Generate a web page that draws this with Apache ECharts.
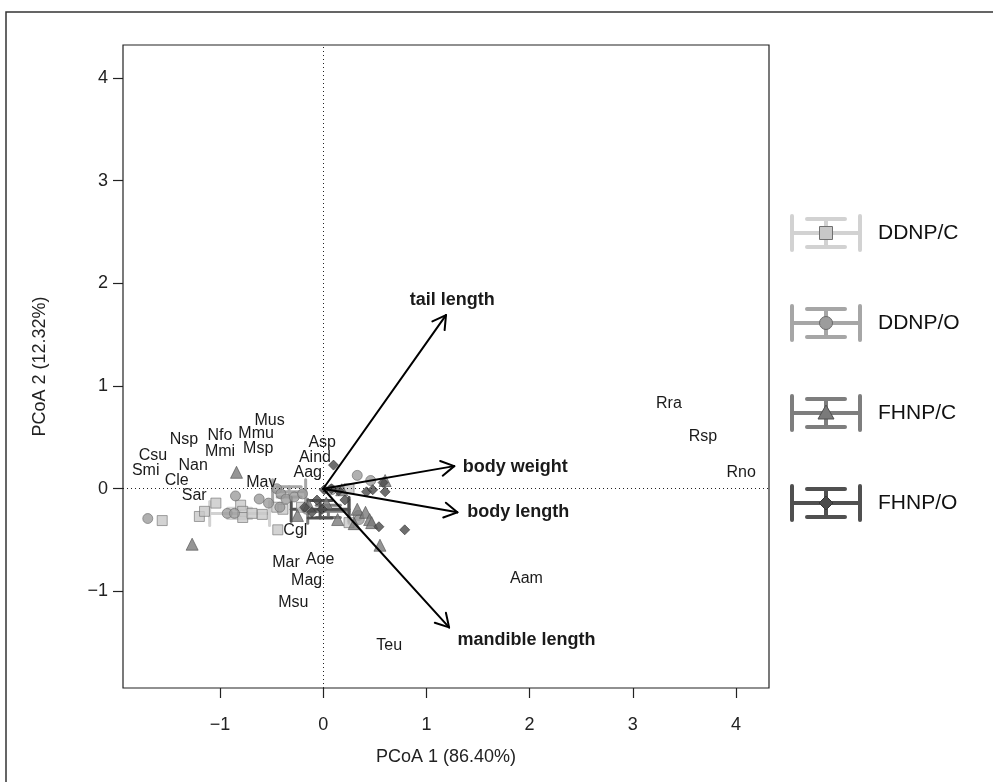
<!DOCTYPE html>
<html>
<head>
<meta charset="utf-8">
<script src="https://cdn.jsdelivr.net/npm/echarts@6/dist/echarts.min.js"></script>
<style>
  html, body { margin: 0; padding: 0; background: #fff; }
  #main { width: 993px; height: 782px; }
</style>
</head>
<body>
<div id="main"></div>
<script>
// group points
var ddnpC = [[-1.56, -0.31], [-1.20, -0.27], [-1.15, -0.22], [-1.04, -0.14], [-0.80, -0.16],
  [-0.78, -0.22], [-0.78, -0.28], [-0.69, -0.24], [-0.59, -0.25], [-0.45, -0.18],
  [-0.44, -0.40], [-0.39, -0.20], [-0.21, -0.18], [0.25, 0.00], [0.25, -0.33]];
var ddnpO = [[-1.70, -0.29], [-0.93, -0.24], [-0.86, -0.24], [-0.85, -0.07], [-0.62, -0.10],
  [-0.53, -0.14], [-0.45, 0.00], [-0.41, -0.05], [-0.36, -0.10], [-0.28, -0.08],
  [-0.42, -0.18], [-0.20, -0.05], [-0.16, -0.20], [0.08, -0.01], [0.33, 0.13],
  [0.46, 0.08], [0.34, -0.26], [0.35, -0.30]];
var fhnpC = [[-0.84, 0.16], [-1.27, -0.54], [-0.25, -0.26], [-0.14, -0.16], [0.03, -0.14],
  [0.14, -0.30], [0.18, -0.01], [0.33, -0.20], [0.41, -0.23], [0.45, -0.30],
  [0.47, -0.33], [0.55, -0.55], [0.60, 0.08], [0.30, -0.34]];
var fhnpO = [[0.10, 0.23], [0.01, -0.01], [0.08, 0.00], [0.15, -0.02], [0.21, -0.11],
  [0.42, -0.03], [0.48, -0.01], [0.58, 0.06], [0.60, -0.03], [0.54, -0.37],
  [0.79, -0.40], [-0.01, -0.20], [-0.11, -0.23], [-0.18, -0.18], [-0.06, -0.11]];

// centroid x, centroid y, error x, error y
var groupNames = ['DDNP/C', 'DDNP/O', 'FHNP/C', 'FHNP/O'];
var groupBars = [[-0.81, -0.24, 0.29, 0.05], [-0.33, -0.03, 0.16, 0.05],
  [0.05, -0.22, 0.20, 0.06], [-0.03, -0.20, 0.28, 0.085]];

var speciesNames = ['Rra', 'Rsp', 'Rno', 'Aam', 'Teu', 'Msu', 'Mag', 'Mar', 'Aoe', 'Cgl',
  'Asp', 'Aind', 'Aag', 'Mav', 'Mus', 'Mmu', 'Msp', 'Nfo', 'Mmi', 'Nsp', 'Nan', 'Csu',
  'Smi', 'Cle', 'Sar'];
var speciesX = [3.35, 3.68, 4.05, 1.97, 0.64, -0.29, -0.16, -0.36, -0.03, -0.27,
  -0.01, -0.08, -0.15, -0.60, -0.52, -0.65, -0.63, -1.00, -1.00, -1.35, -1.26, -1.65,
  -1.72, -1.42, -1.25];
var speciesY = [0.83, 0.51, 0.16, -0.87, -1.53, -1.11, -0.89, -0.72, -0.69, -0.41,
  0.45, 0.30, 0.16, 0.06, 0.66, 0.54, 0.39, 0.52, 0.36, 0.48, 0.23, 0.32,
  0.18, 0.08, -0.07];

var vectorNames = ['tail length', 'body weight', 'body length', 'mandible length'];
var vectorTips = [[1.19, 1.69], [1.27, 0.22], [1.30, -0.23], [1.22, -1.35]];
var vectorLabels = [[1.25, 1.84], [1.86, 0.21], [1.89, -0.23], [1.97, -1.47]];

var axisTicks = [-1, 0, 1, 2, 3, 4];

var barColors = ['#d2d2d2', '#a6a6a6', '#7e7e7e', '#505050'];
var fillColors = ['#c8c8c8', '#9c9c9c', '#7a7a7a', '#4a4a4a'];
var edgeColors = ['#707070', '#6a6a6a', '#505050', '#333333'];
var FONT = '"Liberation Sans", Arial, Helvetica, sans-serif';

var chart = echarts.init(document.getElementById('main'));

function scatter(data, symbol, size, i) {
  return {
    type: 'scatter', data: data, symbol: symbol, symbolSize: size, z: 3,
    itemStyle: { color: fillColors[i], borderColor: edgeColors[i], borderWidth: 0.8 },
    silent: true
  };
}

function errorBars(params, api) {
  var i = params.dataIndex;
  var c = api.coord([api.value(0), api.value(1)]);
  var l = api.coord([api.value(0) - api.value(2), api.value(1)]);
  var r = api.coord([api.value(0) + api.value(2), api.value(1)]);
  var t = api.coord([api.value(0), api.value(1) + api.value(3)]);
  var b = api.coord([api.value(0), api.value(1) - api.value(3)]);
  var cap = 12;
  var st = { stroke: barColors[i], lineWidth: 3, lineCap: 'round' };
  var segs = [
    [l[0], c[1], r[0], c[1]],
    [l[0], c[1] - cap, l[0], c[1] + cap],
    [r[0], c[1] - cap, r[0], c[1] + cap],
    [c[0], t[1], c[0], b[1]],
    [c[0] - cap, t[1], c[0] + cap, t[1]],
    [c[0] - cap, b[1], c[0] + cap, b[1]]
  ];
  return {
    type: 'group',
    children: segs.map(function (s) {
      return { type: 'line', shape: { x1: s[0], y1: s[1], x2: s[2], y2: s[3] }, style: st };
    })
  };
}

function arrows(params, api) {
  var o = api.coord([0, 0]);
  var p = api.coord([api.value(0), api.value(1)]);
  var a = Math.atan2(p[1] - o[1], p[0] - o[0]);
  var L = 15, th = Math.PI / 6;
  var st = { stroke: '#000', lineWidth: 2, lineCap: 'round' };
  return {
    type: 'group',
    children: [
      { type: 'line', shape: { x1: o[0], y1: o[1], x2: p[0], y2: p[1] }, style: st },
      { type: 'line', shape: { x1: p[0], y1: p[1], x2: p[0] - L * Math.cos(a - th), y2: p[1] - L * Math.sin(a - th) }, style: st },
      { type: 'line', shape: { x1: p[0], y1: p[1], x2: p[0] - L * Math.cos(a + th), y2: p[1] - L * Math.sin(a + th) }, style: st }
    ]
  };
}

function textSeries(names, xs, ys, font) {
  return {
    type: 'custom', silent: true, z: 6,
    data: xs.map(function (x, k) { return [x, ys[k]]; }),
    encode: { x: 0, y: 1 },
    renderItem: function (params, api) {
      var p = api.coord([api.value(0), api.value(1)]);
      return {
        type: 'text', x: p[0], y: p[1],
        style: { text: names[params.dataIndex], font: font, fill: '#1a1a1a',
          textAlign: 'center', textVerticalAlign: 'middle' }
      };
    }
  };
}

// legend glyphs (right of the plot)
var legendGraphics = [];
var legendY = [233, 323, 413, 503];
groupNames.forEach(function (name, i) {
  var cx = 826, cy = legendY[i];
  var st = { stroke: barColors[i], lineWidth: 4, lineCap: 'round' };
  var segs = [[792, cy, 860, cy], [792, cy - 17, 792, cy + 17], [860, cy - 17, 860, cy + 17],
    [cx, cy - 14, cx, cy + 14], [cx - 19, cy - 14, cx + 19, cy - 14], [cx - 19, cy + 14, cx + 19, cy + 14]];
  segs.forEach(function (s) {
    legendGraphics.push({ type: 'line', shape: { x1: s[0], y1: s[1], x2: s[2], y2: s[3] }, style: st });
  });
  var ms = { fill: fillColors[i], stroke: edgeColors[i], lineWidth: 1 };
  var marker;
  if (i === 0) marker = { type: 'rect', shape: { x: cx - 6.5, y: cy - 6.5, width: 13, height: 13 }, style: ms };
  else if (i === 1) marker = { type: 'circle', shape: { cx: cx, cy: cy, r: 6.5 }, style: ms };
  else if (i === 2) marker = { type: 'polygon', shape: { points: [[cx, cy - 8], [cx + 8, cy + 6], [cx - 8, cy + 6]] }, style: ms };
  else marker = { type: 'polygon', shape: { points: [[cx, cy - 7], [cx + 7, cy], [cx, cy + 7], [cx - 7, cy]] }, style: ms };
  legendGraphics.push(marker);
  legendGraphics.push({ type: 'text', x: 878, y: cy,
    style: { text: name, font: '21px ' + FONT, fill: '#111', textVerticalAlign: 'middle' } });
});
legendGraphics.push({ type: 'rect', shape: { x: 6, y: 12, width: 1000, height: 800 },
  style: { fill: 'none', stroke: '#333', lineWidth: 1.5 }, z: -1 });

chart.setOption({
  animation: false,
  backgroundColor: '#fff',
  grid: { left: 123, top: 45, width: 646, height: 643, show: true, borderColor: '#222', borderWidth: 1.2, backgroundColor: 'transparent' },
  xAxis: {
    type: 'value', min: -1.94, max: 4.32, position: 'bottom',
    name: 'PCoA 1 (86.40%)', nameLocation: 'middle', nameGap: 60,
    nameTextStyle: { fontFamily: FONT, fontSize: 18, color: '#222' },
    axisLine: { show: false, onZero: false },
    axisTick: { show: true, length: 10, customValues: axisTicks, lineStyle: { color: '#222', width: 1.2 } },
    axisLabel: { customValues: axisTicks, margin: 28, fontFamily: FONT, fontSize: 18, color: '#222',
      formatter: function (v) { return v < 0 ? '\u2212' + (-v) : '' + v; } },
    splitLine: { show: false }
  },
  yAxis: {
    type: 'value', min: -1.94, max: 4.32, position: 'left',
    name: 'PCoA 2 (12.32%)', nameLocation: 'middle', nameGap: 74, nameRotate: 90,
    nameTextStyle: { fontFamily: FONT, fontSize: 18, color: '#222' },
    axisLine: { show: false, onZero: false },
    axisTick: { show: true, length: 10, customValues: axisTicks, lineStyle: { color: '#222', width: 1.2 } },
    axisLabel: { customValues: axisTicks, margin: 15, fontFamily: FONT, fontSize: 18, color: '#222',
      formatter: function (v) { return v < 0 ? '\u2212' + (-v) : '' + v; } },
    splitLine: { show: false }
  },
  graphic: legendGraphics,
  series: [
    {
      type: 'custom', z: 2, silent: true,
      data: groupBars, encode: { x: 0, y: 1 },
      renderItem: errorBars
    },
    scatter(ddnpC, 'rect', 10, 0),
    scatter(ddnpO, 'circle', 10, 1),
    scatter(fhnpC, 'triangle', 12, 2),
    scatter(fhnpO, 'diamond', 10, 3),
    {
      type: 'custom', z: 5, silent: true,
      data: vectorTips, encode: { x: 0, y: 1 },
      renderItem: arrows,
      markLine: {
        silent: true, symbol: 'none', label: { show: false },
        lineStyle: { type: [1, 3], color: '#222', width: 1 },
        data: [{ xAxis: 0 }, { yAxis: 0 }]
      }
    },
    textSeries(speciesNames, speciesX, speciesY, '16px ' + FONT),
    textSeries(vectorNames, vectorLabels.map(function (d) { return d[0]; }),
      vectorLabels.map(function (d) { return d[1]; }), 'bold 18px ' + FONT)
  ]
});
</script>
</body>
</html>
